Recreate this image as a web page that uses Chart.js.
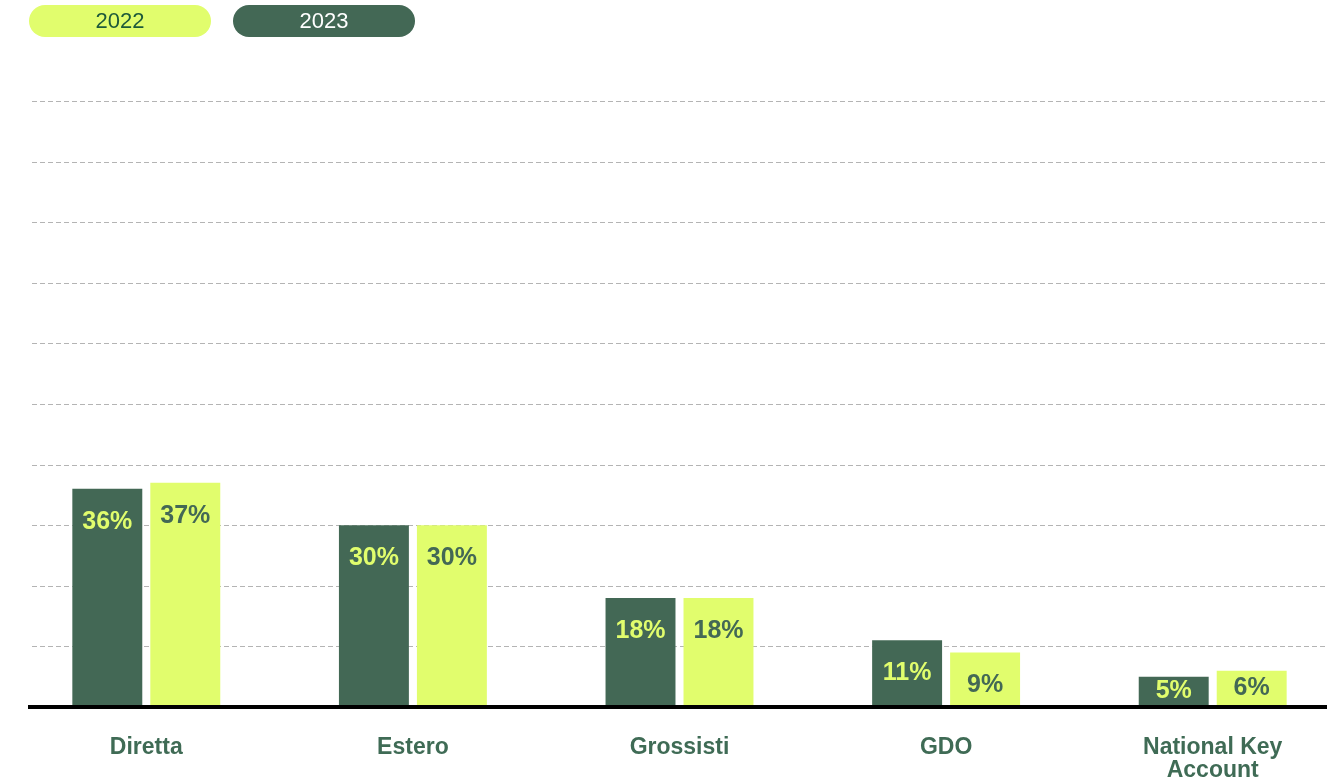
<!DOCTYPE html>
<html>
<head>
<meta charset="utf-8">
<script src="https://cdn.jsdelivr.net/npm/chart.js@4/dist/chart.umd.min.js"></script>
<style>
  html, body { margin: 0; padding: 0; background: #fff; overflow: hidden; width: 1342px; height: 783px; }
  #wrap { position: relative; width: 1350px; height: 783px; }
  #legend { position: absolute; left: 29px; top: 5px; display: flex; gap: 22px; z-index: 2; }
  .pill { width: 182px; height: 32px; border-radius: 16px; display: flex; align-items: center; justify-content: center;
          font-family: "Liberation Sans", Arial, sans-serif; font-size: 22px; }
</style>
</head>
<body>
<div id="wrap">
  <div id="legend"></div>
  <canvas id="c"></canvas>
</div>
<script>
const categories = ["Diretta", "Estero", "Grossisti", "GDO", ["National Key", "Account"]];
const values2023 = [36, 30, 18, 11, 5];
const values2022 = [37, 30, 18, 9, 6];
const yTicks = [10, 20, 30, 40, 50, 60, 70, 80, 90, 100];

const DARK = "#436855";
const LIGHT = "#e1fd6d";
const TEXT = "#3f6b55";

const gridPlugin = {
  id: "customGrid",
  beforeDatasetsDraw(chart) {
    const ctx = chart.ctx, y = chart.scales.y;
    ctx.save();
    ctx.strokeStyle = "#b4b4b4";
    ctx.lineWidth = 1;
    ctx.setLineDash([5, 3]);
    yTicks.forEach(v => {
      const py = Math.round(y.getPixelForValue(v)) + 0.5;
      ctx.beginPath();
      ctx.moveTo(32, py);
      ctx.lineTo(1327, py);
      ctx.stroke();
    });
    ctx.restore();
  },
  afterDatasetsDraw(chart) {
    const ctx = chart.ctx, y = chart.scales.y;
    const base = y.getPixelForValue(0);
    ctx.save();
    ctx.fillStyle = "#000";
    ctx.fillRect(28, base - 2, 1327 - 28, 4);
    ctx.font = "bold 25px 'Liberation Sans', Arial, sans-serif";
    ctx.textAlign = "center";
    ctx.textBaseline = "middle";
    chart.data.datasets.forEach((ds, di) => {
      const meta = chart.getDatasetMeta(di);
      meta.data.forEach((bar, i) => {
        const top = bar.y;
        const h = base - top;
        const ly = h < 50 ? top + h / 2 - 1 : top + 33;
        ctx.fillStyle = ds.backgroundColor === DARK ? LIGHT : DARK;
        ctx.fillText(ds.data[i] + "%", bar.x, ly);
      });
    });
    ctx.restore();
  }
};

const chart = new Chart(document.getElementById("c"), {
  type: "bar",
  data: {
    labels: categories,
    datasets: [
      { label: "2023", data: values2023, backgroundColor: DARK, textColor: "#ffffff",
        barPercentage: 0.897, categoryPercentage: 0.585 },
      { label: "2022", data: values2022, backgroundColor: LIGHT, textColor: "#1d5a3a",
        barPercentage: 0.897, categoryPercentage: 0.585 }
    ]
  },
  options: {
    responsive: true,
    maintainAspectRatio: false,
    animation: false,
    layout: { padding: { top: 101, left: 13, right: 4, bottom: 0 } },
    plugins: { legend: { display: false }, tooltip: { enabled: false } },
    scales: {
      x: {
        grid: { display: false, drawTicks: false },
        border: { display: false },
        ticks: {
          color: TEXT,
          padding: 29,
          maxRotation: 0,
          autoSkip: false,
          font: { family: "'Liberation Sans', Arial, sans-serif", size: 23, weight: "bold", lineHeight: 1.0 }
        },
        afterFit(scale) { scale.height = 76; }
      },
      y: { display: false, min: 0, max: 100 }
    }
  },
  plugins: [gridPlugin]
});

const legendEl = document.getElementById("legend");
chart.data.datasets.slice().reverse().forEach(ds => {
  const p = document.createElement("div");
  p.className = "pill";
  p.style.background = ds.backgroundColor;
  p.style.color = ds.textColor;
  p.textContent = ds.label;
  legendEl.appendChild(p);
});
</script>
</body>
</html>
